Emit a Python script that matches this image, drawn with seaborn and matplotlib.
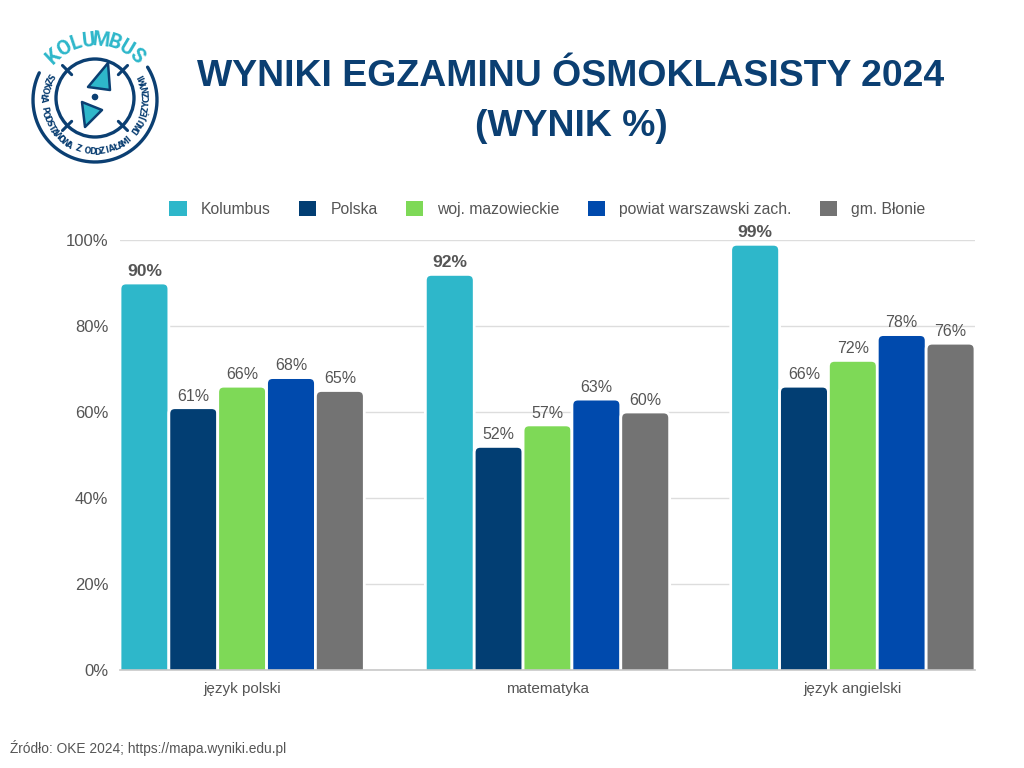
import numpy as np
import pandas as pd
import matplotlib
matplotlib.use('Agg')
import matplotlib.pyplot as plt
import seaborn as sns
from matplotlib.patches import FancyBboxPatch, Circle, Polygon, Patch

# ====== DATA

subjects = ['język polski', 'matematyka', 'język angielski']
groups = ['Kolumbus', 'Polska', 'woj. mazowieckie', 'powiat warszawski zach.', 'gm. Błonie']
kolumbus = [90, 92, 99]
polska = [61, 52, 66]
mazowieckie = [66, 57, 72]
powiat = [68, 63, 78]
blonie = [65, 60, 76]
yticks = [0, 20, 40, 60, 80, 100]

colors = ['#2eb7ca', '#023e73', '#7ed957', '#004aad', '#737373']
NAVY = '#0b3f72'
TEAL = '#2eb7ca'
GREY_TXT = '#555555'

rows = []
for grp, vals in zip(groups, [kolumbus, polska, mazowieckie, powiat, blonie]):
    for subj, v in zip(subjects, vals):
        rows.append({'przedmiot': subj, 'grupa': grp, 'wynik': v})
df = pd.DataFrame(rows)

# ====== FIGURE

sns.set_theme(style='white')
plt.rcParams['font.family'] = ['Liberation Sans', 'DejaVu Sans']

fig = plt.figure(figsize=(10.24, 7.68), dpi=100)
ax = fig.add_axes([120 / 1024, 1 - 670 / 768, 855 / 1024, 430 / 768])

sns.barplot(data=df, x='przedmiot', y='wynik', hue='grupa', order=subjects, hue_order=groups,
            palette=colors, saturation=1, width=0.8, edgecolor='white', linewidth=2,
            legend=False, ax=ax)

ax.set_xlim(-0.4, 2.4)
ax.set_ylim(0, 100)
ax.set_yticks(yticks)
ax.set_yticklabels([f'{t}%' for t in yticks])
ax.set_xlabel('')
ax.set_ylabel('')
ax.grid(axis='y', color='#dddddd', linewidth=1)
ax.set_axisbelow(True)
for s in ['top', 'right', 'left']:
    ax.spines[s].set_visible(False)
ax.spines['bottom'].set_color('#c8c8c8')
ax.spines['bottom'].set_linewidth(1.2)
ax.tick_params(axis='both', length=0, labelcolor=GREY_TXT)
ax.tick_params(axis='y', pad=8.5, labelsize=12)
ax.tick_params(axis='x', pad=9, labelsize=11)

# rounded tops: swap the seaborn rectangles for rounded boxes of the same size
fig.canvas.draw()
px_x = ax.transData.transform((1, 0))[0] - ax.transData.transform((0, 0))[0]
px_y = ax.transData.transform((0, 1))[1] - ax.transData.transform((0, 0))[1]
rx = 6 / px_x
aspect = px_x / px_y
for cont in ax.containers:
    for bar in cont.patches:
        x, w, h = bar.get_x(), bar.get_width(), bar.get_height()
        ry = rx * aspect
        box = FancyBboxPatch((x, -ry), w, h + ry,
                             boxstyle=f'round,pad=0,rounding_size={rx}',
                             mutation_aspect=aspect,
                             facecolor=bar.get_facecolor(), edgecolor='white', linewidth=2)
        ax.add_patch(box)
        bar.set_visible(False)

for i, cont in enumerate(ax.containers):
    ax.bar_label(cont, labels=[f'{v:.0f}%' for v in cont.datavalues], padding=3,
                 fontsize=12.6 if i == 0 else 11.5,
                 fontweight='bold' if i == 0 else 'normal', color=GREY_TXT)

handles = [Patch(facecolor=c, edgecolor='none', label=g) for g, c in zip(groups, colors)]
ax.legend(handles=handles, loc='center', bbox_to_anchor=(0.5, 1 + 31 / 430), ncol=5, frameon=False,
          fontsize=11.3, handlelength=1.1, handleheight=1.1, handletextpad=0.9,
          columnspacing=1.8, labelcolor=GREY_TXT)

# ====== TITLE AND SOURCE

fig.text(571 / 1024, 1 - 77 / 768, 'WYNIKI EGZAMINU ÓSMOKLASISTY 2024', ha='center', va='center',
         fontsize=26.9, fontweight='bold', color=NAVY)
fig.text(571 / 1024, 1 - 127 / 768, '(WYNIK %)', ha='center', va='center',
         fontsize=26.9, fontweight='bold', color=NAVY)
fig.text(10 / 1024, 1 - 748 / 768, 'Źródło: OKE 2024; https://mapa.wyniki.edu.pl', ha='left', va='center',
         fontsize=9.9, color=GREY_TXT)

# ====== LOGO (pixel coordinates)

lg = fig.add_axes([0, 0, 1, 1], zorder=-1)
lg.set_xlim(0, 1024)
lg.set_ylim(768, 0)
lg.axis('off')
cx, cy = 95, 100

ring = np.deg2rad(np.linspace(154, 392, 200))
lg.plot(cx + 62 * np.cos(ring), cy - 62 * np.sin(ring), color=NAVY, lw=2.4, solid_capstyle='round')
lg.add_patch(Circle((cx, cy - 2), 39, fill=False, color=NAVY, lw=2.4))
for a in [45, 135, 225, 315]:
    t = np.deg2rad(a)
    lg.plot([cx + 33 * np.cos(t), cx + 46 * np.cos(t)], [cy - 2 + 33 * np.sin(t), cy - 2 + 46 * np.sin(t)],
            color=NAVY, lw=2.2, solid_capstyle='round')
lg.add_patch(Polygon([(108, 63), (88, 87), (110, 90)], closed=True, facecolor=TEAL, edgecolor=NAVY,
                     lw=1.8, joinstyle='round'))
lg.add_patch(Polygon([(82, 102), (102, 110), (85, 127)], closed=True, facecolor=TEAL, edgecolor=NAVY,
                     lw=1.8, joinstyle='round'))
lg.add_patch(Circle((95, 97), 2.6, color=NAVY))

word = 'KOLUMBUS'
for k, ch in enumerate(word):
    ang = 133 - k * 86 / (len(word) - 1)
    t = np.deg2rad(ang)
    lg.text(cx + 61 * np.cos(t), cy + 1 - 61 * np.sin(t), ch, rotation=ang - 90, ha='center', va='center',
            fontsize=14.5, fontweight='bold', color=TEAL,
            family=['Liberation Sans Narrow', 'Roboto', 'DejaVu Sans'])

inner = 'SZKOŁA PODSTAWOWA Z ODDZIAŁAMI DWUJĘZYCZNYMI'
for k, ch in enumerate(inner):
    ang = 152 + k * 236 / (len(inner) - 1)
    t = np.deg2rad(ang)
    lg.text(cx + 52 * np.cos(t), cy - 52 * np.sin(t), ch, rotation=ang + 90, ha='center', va='center',
            fontsize=5.8, fontweight='bold', color=NAVY,
            family=['Liberation Sans Narrow', 'DejaVu Sans'])

fig.savefig('out.png', dpi=100)
